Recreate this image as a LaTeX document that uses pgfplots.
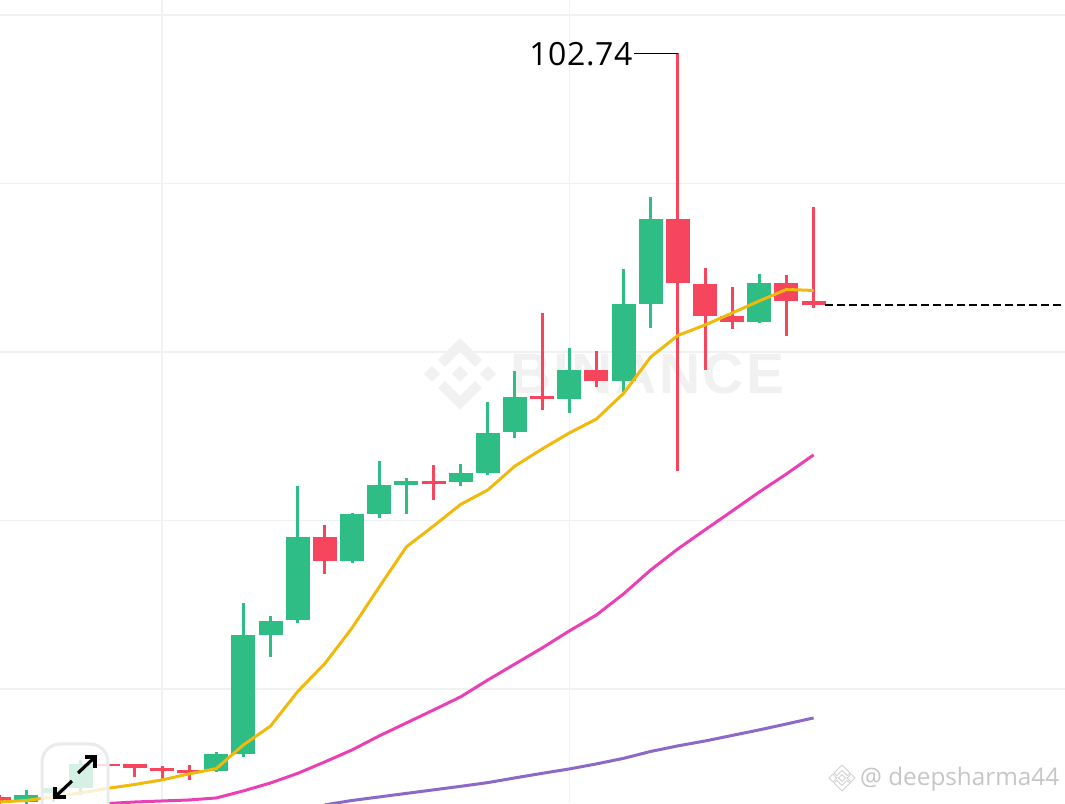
\documentclass[border=0pt]{standalone}
\usepackage{pgfplots}
\usepackage{pgfplotstable}
\usepackage{fontspec}
\pgfplotsset{compat=1.18}
\setmainfont{Open Sans}
\newfontfamily\wmfont[LetterSpace=4.2]{Liberation Sans}
\definecolor{upc}{HTML}{2EBD85}
\definecolor{dnc}{HTML}{F6465D}
\definecolor{maa}{HTML}{F0B90B}
\definecolor{mab}{HTML}{EB40B5}
\definecolor{mac}{HTML}{8C68C8}
\definecolor{gridc}{HTML}{F0F1F2}
\definecolor{wmc}{HTML}{F1F1F2}
\pgfplotstableread{
x open high low close
-5 58.29 59.01 58.20 58.71
-4 58.83 59.20 58.30 59.12
-3 59.12 60.79 58.71 60.55
2 60.13 61.26 60.07 61.14
3 61.14 70.10 60.96 68.20
4 68.20 69.33 66.90 69.04
5 69.09 77.05 68.92 74.02
7 72.60 75.44 72.48 75.39
8 75.39 78.53 75.15 77.11
9 77.11 77.52 75.39 77.34
11 77.29 78.35 77.05 77.82
12 77.82 82.03 77.70 80.19
13 80.25 83.87 79.90 82.33
15 82.21 85.24 81.38 83.93
17 83.28 89.93 82.63 87.85
18 87.85 94.20 86.42 92.89
22 86.78 89.63 86.72 89.09
}\upt
\pgfplotstableread{
x open high low close
-6 58.59 58.70 58.20 58.35
-2 60.55 60.60 60.40 60.43
-1 60.55 60.55 59.78 60.31
0 60.31 60.43 59.66 60.13
1 60.19 60.49 59.60 60.04
6 74.02 74.73 71.82 72.60
10 77.34 78.29 76.22 77.17
14 82.39 87.31 81.56 82.21
16 83.93 85.06 82.92 83.28
19 92.89 102.74 77.94 89.09
20 89.04 89.99 83.93 87.14
21 87.14 88.86 86.36 86.78
23 89.09 89.57 85.95 88.03
24 88.03 93.60 87.61 87.79
}\dnt
\pgfplotstableread{
x y
-6 58.29
-5 58.38
-4 58.59
-3 58.83
-2 59.10
-1 59.33
0 59.60
1 59.96
2 60.27
3 61.68
4 62.80
5 64.85
6 66.51
7 68.62
8 71.05
9 73.43
10 74.67
11 75.95
12 76.81
13 78.23
14 79.24
15 80.19
16 81.02
17 82.54
18 84.70
19 85.98
20 86.60
21 87.31
22 88.03
23 88.71
24 88.65
}\maA
\pgfplotstableread{
x y
-2 58.20
-1 58.29
0 58.35
1 58.41
2 58.53
3 58.95
4 59.42
5 59.99
6 60.67
7 61.38
8 62.21
9 62.98
10 63.75
11 64.53
12 65.53
13 66.48
14 67.43
15 68.44
16 69.39
17 70.64
18 72.06
19 73.31
20 74.44
21 75.56
22 76.69
23 77.76
24 78.89
}\maB
\pgfplotstableread{
x y
6 58.12
7 58.38
8 58.59
9 58.80
10 59.01
11 59.22
12 59.44
13 59.72
14 59.99
15 60.25
16 60.55
17 60.88
18 61.29
19 61.62
20 61.91
21 62.24
22 62.57
23 62.92
24 63.28
}\maC
\begin{document}
\begin{tikzpicture}
\path[use as bounding box] (0pt,0pt) rectangle (1065pt,803pt);
\begin{axis}[
  at={(0pt,0pt)}, anchor=south west,
  scale only axis, width=1065pt, height=803pt,
  xmin=-5.967, xmax=33.26, ymin=58.23, ymax=105.89,
  axis line style={draw=none}, tick style={draw=none},
  xtick={0,15}, ytick={65,75,85,95,105},
  xticklabels={}, yticklabels={},
  grid=major, major grid style={gridc, line width=1.5pt},
]
% watermark
\pgfplotsextra{
\begin{scope}[shift={(rel axis cs:0,1)}]
  \begin{scope}[shift={(460pt,-374pt)}]
    \fill[wmc] (-28pt,-8pt)--(-20pt,0pt)--(-28pt,8pt)--(-36pt,0pt)--cycle;
    \fill[wmc] (28pt,-8pt)--(36pt,0pt)--(28pt,8pt)--(20pt,0pt)--cycle;
    \fill[wmc] (0pt,-8pt)--(8pt,0pt)--(0pt,8pt)--(-8pt,0pt)--cycle;
    \fill[wmc] (0pt,36pt)--(22pt,14pt)--(15pt,7pt)--(0pt,22pt)--(-15pt,7pt)--(-22pt,14pt)--cycle;
    \fill[wmc] (0pt,-36pt)--(22pt,-14pt)--(15pt,-7pt)--(0pt,-22pt)--(-15pt,-7pt)--(-22pt,-14pt)--cycle;
  \end{scope}
  \node[anchor=base west, inner sep=0pt, text=wmc, font=\wmfont\bfseries\fontsize{57}{57}\selectfont] at (510pt,-394pt) {BINANCE};
  \begin{scope}[shift={(842pt,-778pt)}, line width=0.8pt]
    \draw[gray!35, fill=white] (-13pt,0pt)--(-9pt,-4pt)--(-5pt,0pt)--(-9pt,4pt)--cycle;
    \draw[gray!35, fill=white] (13pt,0pt)--(9pt,-4pt)--(5pt,0pt)--(9pt,4pt)--cycle;
    \draw[gray!35, fill=white] (0pt,-3.5pt)--(3.5pt,0pt)--(0pt,3.5pt)--(-3.5pt,0pt)--cycle;
    \draw[gray!35, fill=white] (0pt,13pt)--(8pt,5pt)--(5pt,2.5pt)--(0pt,7.5pt)--(-5pt,2.5pt)--(-8pt,5pt)--cycle;
    \draw[gray!35, fill=white] (0pt,-13pt)--(8pt,-5pt)--(5pt,-2.5pt)--(0pt,-7.5pt)--(-5pt,-2.5pt)--(-8pt,-5pt)--cycle;
  \end{scope}
  \node[anchor=base west, inner sep=0pt, text=gray!45, font=\fontsize{24.3}{24.3}\selectfont] at (860pt,-786pt) {@ deepsharma44};
\end{scope}
}
% wicks
\addplot[draw=none, mark=none, forget plot, error bars/.cd, y dir=plus, y explicit, error mark=none,
  error bar style={line width=3pt, color=upc}]
  table[x=x, y=low, y error plus expr=\thisrow{high}-\thisrow{low}] {\upt};
\addplot[draw=none, mark=none, forget plot, error bars/.cd, y dir=plus, y explicit, error mark=none,
  error bar style={line width=3pt, color=dnc}]
  table[x=x, y=low, y error plus expr=\thisrow{high}-\thisrow{low}] {\dnt};
% bodies
\addplot[draw=none, mark=none, forget plot, error bars/.cd, y dir=plus, y explicit, error mark=none,
  error bar style={line width=24pt, color=upc}]
  table[x=x, y=open, y error plus expr=\thisrow{close}-\thisrow{open}] {\upt};
\addplot[draw=none, mark=none, forget plot, error bars/.cd, y dir=plus, y explicit, error mark=none,
  error bar style={line width=24pt, color=dnc}]
  table[x=x, y=close, y error plus expr=\thisrow{open}-\thisrow{close}] {\dnt};
% moving averages
\addplot[mac, line width=3pt, no markers, line join=round] table[x=x,y=y] {\maC};
\addplot[mab, line width=3pt, no markers, line join=round] table[x=x,y=y] {\maB};
\addplot[maa, line width=3pt, no markers, line join=round] table[x=x,y=y] {\maA};
% last price line
\addplot[black, line width=1.4pt, dash pattern=on 8pt off 4pt, no markers] coordinates {(24.42,87.79) (33.26,87.79)};
% high label
\addplot[black, line width=1.1pt, no markers] coordinates {(17.38,102.74) (19,102.74)};
\node[anchor=east, inner sep=0pt, text=black, font=\fontsize{32}{32}\selectfont] at (axis cs:17.33,102.70) {1\kern0.6pt0\kern0.6pt2\kern0.6pt.\kern0.6pt7\kern0.6pt4};
% expand button
\pgfplotsextra{
\begin{scope}[shift={(rel axis cs:0,1)}]
  \draw[gridc!95!gray, line width=3pt, fill=white, fill opacity=0.8, rounded corners=18pt] (42pt,-744pt) rectangle (108pt,-830pt);
  \draw[black, line width=3.2pt] (55pt,-787pt)--(55pt,-797pt)--(66pt,-797pt);
  \draw[black, line width=3.2pt] (55pt,-797pt)--(72pt,-781pt);
  \draw[black, line width=3.2pt] (85pt,-757pt)--(95pt,-757pt)--(95pt,-768pt);
  \draw[black, line width=3.2pt] (95pt,-757pt)--(78pt,-773pt);
\end{scope}
}
\end{axis}
\end{tikzpicture}
\end{document}
